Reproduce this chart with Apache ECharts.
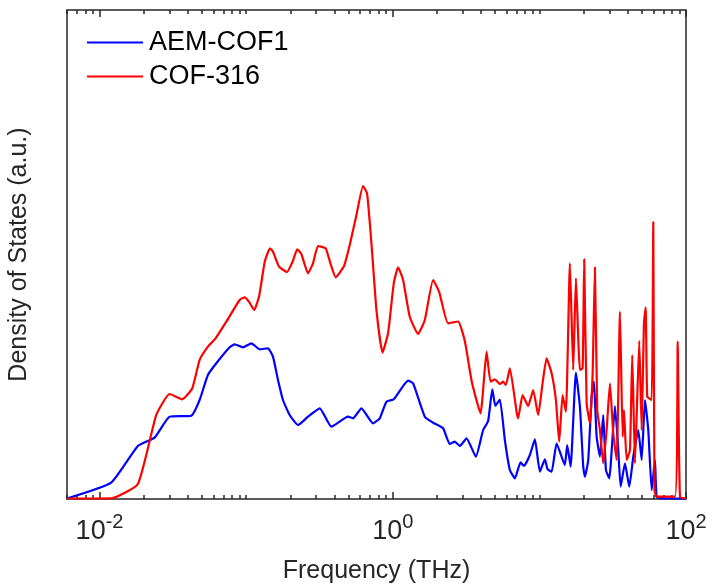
<!DOCTYPE html>
<html><head><meta charset="utf-8">
<script src="https://cdn.jsdelivr.net/npm/echarts@6/dist/echarts.min.js"></script>
<style>html,body{margin:0;padding:0;background:#fff}#c{width:709px;height:585px}</style>
</head><body><div id="c"></div>
<script>
// Frequency in THz, density of states in arbitrary units (0-100)
const aemFreq = [0.006,0.0120,0.01826,0.02373,0.03004,0.04225,0.04816,0.05484,0.06259,0.07716,0.08346,0.09510,0.1085,0.1237,0.1409,0.1524,0.1649,0.1783,0.1981,0.2258,0.2641,0.3176,0.3815,0.4953,0.5358,0.6113,0.7336,0.8152,0.9058,1.016,1.272,1.376,1.654,1.884,2.204,2.449,2.650,2.867,3.185,3.687,4.134,4.472,4.777,5.008,5.376,5.814,6.289,6.804,7.441,7.838,8.612,9.318,10.08,10.90,11.38,12.12,13.10,14.17,14.93,15.48,16.33,17.75,18.90,19.91,20.45,21.54,22.72,23.55,24.57,25.88,27.26,28.44,29.96,32.77,34.51,35.84,38.33,41.02,43.69,47.25,49.84,52.49,55.30,58.33,61.43,63.10,69.99,100];
const aemDos = [0.1,3.33,10.84,12.54,16.83,17.03,20.25,25.36,27.75,31.02,31.64,31.02,31.84,30.61,30.82,29.10,24.34,20.25,17.18,15.13,16.83,18.55,14.79,16.83,16.50,18.55,15.48,16.50,19.90,20.39,24.19,23.66,16.83,15.60,14.46,11.25,11.72,10.84,12.41,8.65,14.11,15.95,22.43,19.02,20.35,12.07,5.93,4.23,7.51,6.75,9.00,12.21,5.58,8.12,6.07,5.58,11.39,8.65,6.95,11.04,6.61,25.83,18.88,6.61,4.56,7.98,20.92,23.99,12.74,8.65,17.18,5.93,4.23,19.02,10.02,2.52,7.30,2.52,8.65,14.11,7.98,20.25,14.11,1.84,7.98,0.47,0.14,0.1];
const cofFreq = [0.006,0.0120,0.01826,0.02438,0.03004,0.03668,0.04293,0.04816,0.05484,0.06190,0.07324,0.09029,0.09767,0.1045,0.1134,0.1227,0.1338,0.1454,0.1524,0.1675,0.1899,0.2077,0.2229,0.2380,0.2641,0.2858,0.3091,0.3488,0.3755,0.4083,0.4652,0.5087,0.5653,0.6270,0.6676,0.7154,0.7741,0.8506,0.9288,1.016,1.087,1.176,1.306,1.488,1.654,1.884,2.070,2.385,2.791,3.101,3.461,3.968,4.362,4.645,4.969,5.376,5.661,5.907,6.289,6.988,7.166,7.679,8.385,9.072,9.813,10.51,11.20,12.12,12.96,13.65,14.40,15.17,16.15,17.01,17.75,18.90,19.72,20.22,21.00,22.12,23.08,23.92,24.80,25.88,27.26,28.75,30.28,31.90,33.65,35.44,36.98,37.75,39.38,41.47,42.99,44.87,48.00,49.84,51.67,53.07,54.42,58.33,59.81,60.95,63.10,84.13,87.77,91.0,100];
const cofDos = [0.1,0.14,3.07,17.18,21.47,20.39,22.64,28.43,31.15,32.86,36.26,40.70,41.25,40.35,38.65,41.51,48.47,51.27,50.57,47.51,46.42,48.57,51.06,50.10,46.16,48.20,51.74,51.27,48.20,45.34,47.65,51.94,58.08,64.01,62.52,52.29,38.65,29.92,33.89,44.11,47.38,44.79,37.28,33.74,36.61,44.79,42.39,35.93,36.30,32.31,23.93,17.53,30.12,23.99,24.48,23.52,23.99,23.31,26.73,17.85,16.50,21.27,19.02,22.29,17.18,23.66,28.77,25.71,20.25,11.72,21.27,17.85,48.20,26.38,45.13,26.38,26.73,49.02,19.57,15.48,25.71,47.38,18.20,14.11,7.30,14.11,23.66,13.44,7.98,38.30,12.74,18.20,7.98,10.02,29.45,7.30,32.37,14.11,35.93,39.20,20.92,20.25,56.65,1.84,0.47,0.47,32.17,0.47,0.1];
const seriesNames = ['AEM-COF1', 'COF-316'];
const majorTicks = [0.01, 1, 100];
const minorTicks = [0.006,0.007,0.008,0.009,0.02,0.03,0.04,0.05,0.06,0.07,0.08,0.09,0.1,0.2,0.3,0.4,0.5,0.6,0.7,0.8,0.9,2,3,4,5,6,7,8,9,10,20,30,40,50,60,70,80,90];
const xMin = 0.006, xMax = 100;

const FONT = '"Liberation Sans", Arial, Helvetica, sans-serif';
const AX = '#262626';

function tickAxis(pos, ticks, len, showLabel) {
  return {
    type: 'log', logBase: 10, min: xMin, max: xMax, position: pos,
    axisLine: {show: false},
    splitLine: {show: false}, minorTick: {show: false}, minorSplitLine: {show: false},
    axisTick: {show: true, inside: true, length: len, customValues: ticks, lineStyle: {color: AX, width: 1.5}},
    axisLabel: showLabel ? {
      show: true, customValues: ticks, margin: 19, color: AX, fontFamily: FONT,
      formatter: v => '{b|10}{s|' + Math.round(Math.log10(v)) + '}',
      rich: {
        b: {fontSize: 27, lineHeight: 27, fontFamily: FONT, color: AX},
        s: {fontSize: 20, lineHeight: 20, fontFamily: FONT, color: AX, padding: [0, 0, 19, 0]}
      }
    } : {show: false}
  };
}

const xAxes = [
  Object.assign(tickAxis('bottom', majorTicks, 7, true), {
    name: 'Frequency (THz)', nameLocation: 'middle', nameGap: 60,
    nameTextStyle: {fontSize: 25, fontFamily: FONT, color: AX}
  }),
  tickAxis('bottom', minorTicks, 4, false),
  tickAxis('top', majorTicks, 7, false),
  tickAxis('top', minorTicks, 4, false)
];

const chart = echarts.init(document.getElementById('c'), null, {renderer: 'canvas'});
chart.setOption({
  animation: false,
  backgroundColor: '#ffffff',
  grid: {left: 67, right: 23, top: 10, bottom: 86, outerBoundsMode: 'none', containLabel: false,
         show: true, borderColor: AX, borderWidth: 1.5, backgroundColor: 'transparent'},
  legend: {
    orient: 'vertical', left: 87, top: 29, padding: 0, itemGap: 7,
    icon: 'rect', itemWidth: 56, itemHeight: 2,
    textStyle: {fontSize: 27, lineHeight: 26, fontFamily: FONT, color: '#000', padding: [0, 0, 0, 1]},
    data: seriesNames
  },
  xAxis: xAxes,
  yAxis: {
    type: 'value', min: 0, max: 100,
    axisLine: {show: false}, axisTick: {show: false}, axisLabel: {show: false}, splitLine: {show: false},
    name: 'Density of States (a.u.)', nameLocation: 'middle', nameGap: 35,
    nameTextStyle: {fontSize: 25, fontFamily: FONT, color: AX}
  },
  series: [
    {name: seriesNames[0], type: 'line', xAxisIndex: 0, symbol: 'none', showSymbol: false, smooth: 0.15,
     lineStyle: {color: '#0000ff', width: 2.2}, itemStyle: {color: '#0000ff'},
     data: aemFreq.map((f, i) => [f, aemDos[i]])},
    {name: seriesNames[1], type: 'line', xAxisIndex: 0, symbol: 'none', showSymbol: false, smooth: 0.15,
     lineStyle: {color: '#ff0000', width: 2.2}, itemStyle: {color: '#ff0000'},
     data: cofFreq.map((f, i) => [f, cofDos[i]])}
  ]
});
</script>
</body></html>
